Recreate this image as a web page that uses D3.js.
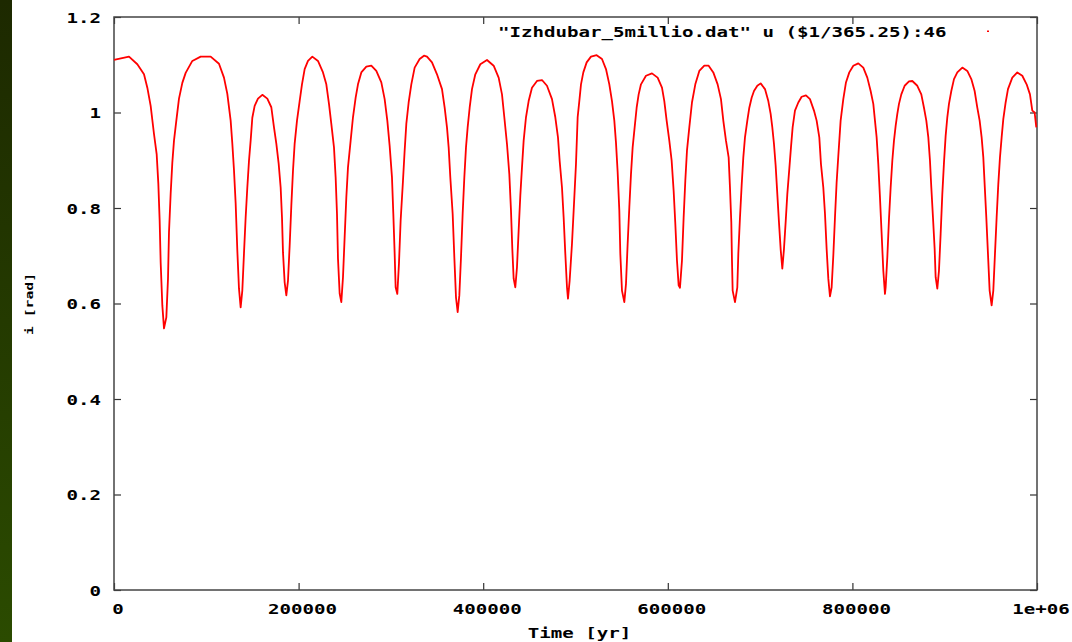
<!DOCTYPE html>
<html>
<head>
<meta charset="utf-8">
<script src="https://cdn.jsdelivr.net/npm/d3@7"></script>
<style>
  html, body { margin: 0; padding: 0; background: #ffffff; }
  svg { display: block; }
  text { font-family: "DejaVu Sans Mono", "Liberation Mono", monospace; font-weight: bold; fill: #000; }
</style>
</head>
<body>
<script>
// ---- data ----
const times = [
  0, 16250, 25280, 32500, 36110, 39720, 43330, 46220, 48030, 49470, 50560, 52360, 54170,
  56690, 58500, 59580, 61390, 63190, 65000, 67530, 70410, 74030, 77640, 84860, 93890,
  104720, 113750, 119160, 122780, 126390, 128190, 130000, 131800, 133610, 135410, 137220,
  139020, 140830, 142630, 144440, 146250, 148050, 149860, 152390, 156000, 160690, 166110,
  170450, 173340, 175870, 178400, 180560, 182010, 183090, 184900, 186700, 188510, 190310,
  192120, 193920, 195730, 198260, 201140, 203670, 206560, 210170, 214870, 221000, 226420,
  230030, 232920, 235450, 238340, 240140, 241590, 242670, 244480, 246280, 248090, 249890,
  251700, 253500, 256390, 258920, 261810, 264340, 267950, 273370, 278780, 284200, 289620,
  293230, 296120, 298650, 301170, 302620, 304060, 305140, 306950, 308750, 310560, 313090,
  314890, 316700, 319230, 322120, 325730, 331150, 335840, 339110, 344520, 349940, 355360,
  358250, 360770, 362580, 364380, 366910, 368720, 370520, 372330, 374130, 375940, 377750,
  379550, 381360, 383160, 385330, 387860, 391470, 396880, 404110, 411330, 416740, 420360,
  422880, 425770, 428300, 430100, 431550, 432990, 434800, 436600, 438410, 440210, 442020,
  443830, 446350, 449240, 452850, 458270, 463690, 469100, 474520, 478130, 481020, 482830,
  485360, 487160, 488970, 490770, 491850, 493660, 496190, 498350, 500520, 502340, 504140,
  505950, 508470, 512090, 516780, 522920, 528700, 533030, 536640, 539530, 542060, 543860,
  545670, 547470, 548560, 550360, 552890, 554700, 556500, 558310, 560110, 561920, 564080,
  566250, 568420, 570940, 576360, 582860, 589000, 593700, 596220, 598750, 601640, 604170,
  606330, 608140, 609940, 611750, 613190, 615360, 617160, 618970, 620770, 623300, 626190,
  629800, 634140, 639560, 644250, 649300, 653990, 657600, 660140, 663030, 665920, 667360,
  668800, 669530, 670260, 672790, 675310, 676400, 678200, 680010, 681810, 683620, 686150,
  688310, 690840, 693370, 696980, 700590, 705290, 708900, 711430, 713230, 715040, 716840,
  718650, 720450, 722260, 724060, 725870, 727670, 729480, 731640, 733450, 735250, 737780,
  741390, 745010, 749700, 754030, 758370, 761260, 764150, 765950, 768480, 770290, 772090,
  773900, 775700, 777510, 779310, 781120, 782920, 784730, 787250, 790140, 793030, 796640,
  800980, 806400, 811810, 816150, 819760, 822650, 824450, 826260, 828060, 829870, 831670,
  833480, 835280, 836030, 837830, 839640, 841440, 843250, 845050, 846860, 848660, 850470,
  852990, 856610, 861300, 864910, 870330, 874660, 877550, 880080, 882250, 884050, 885500,
  887300, 889110, 890190, 892000, 893800, 895610, 897410, 899220, 901020, 902830, 904630,
  907160, 910050, 913660, 919080, 924490, 928830, 932440, 935330, 937860, 940020, 941830,
  943270, 945080, 946880, 948690, 950850, 952660, 954460, 956270, 958070, 959880, 961690,
  963490, 966020, 968550, 973240, 978660, 984070, 988770, 992380, 994910, 997440, 999240
];
const inclination = [
  1.110, 1.117, 1.101, 1.080, 1.052, 1.014, 0.955, 0.913, 0.851, 0.773, 0.686, 0.596, 0.548,
  0.571, 0.652, 0.749, 0.830, 0.895, 0.941, 0.983, 1.029, 1.062, 1.083, 1.108, 1.117,
  1.117, 1.102, 1.073, 1.039, 0.983, 0.935, 0.879, 0.810, 0.711, 0.631, 0.592,
  0.627, 0.705, 0.780, 0.843, 0.899, 0.941, 0.989, 1.014, 1.029, 1.037, 1.029,
  1.011, 0.969, 0.935, 0.893, 0.843, 0.780, 0.707, 0.644, 0.617, 0.648, 0.721,
  0.805, 0.878, 0.935, 0.983, 1.024, 1.059, 1.091, 1.108, 1.117, 1.108, 1.084,
  1.059, 1.018, 0.976, 0.927, 0.864, 0.788, 0.694, 0.621, 0.603, 0.655, 0.739,
  0.822, 0.885, 0.941, 0.990, 1.031, 1.059, 1.084, 1.096, 1.098, 1.087, 1.063,
  1.028, 0.983, 0.930, 0.864, 0.788, 0.705, 0.634, 0.620, 0.684, 0.774, 0.857,
  0.920, 0.976, 1.021, 1.059, 1.094, 1.112, 1.119, 1.117, 1.105, 1.080, 1.049,
  1.010, 0.969, 0.927, 0.864, 0.788, 0.697, 0.613, 0.582, 0.617, 0.697, 0.788,
  0.864, 0.927, 0.969, 1.010, 1.049, 1.080, 1.101, 1.110, 1.098, 1.073, 1.038,
  0.990, 0.934, 0.871, 0.795, 0.714, 0.652, 0.634, 0.676, 0.753, 0.826, 0.885,
  0.941, 0.990, 1.024, 1.052, 1.066, 1.068, 1.056, 1.028, 0.990, 0.948, 0.899,
  0.843, 0.780, 0.704, 0.634, 0.610, 0.648, 0.725, 0.808, 0.892, 0.990, 1.024,
  1.059, 1.084, 1.105, 1.117, 1.120, 1.112, 1.091, 1.059, 1.024, 0.983, 0.937,
  0.875, 0.795, 0.704, 0.627, 0.603, 0.641, 0.725, 0.801, 0.871, 0.927, 0.969,
  1.010, 1.038, 1.059, 1.077, 1.082, 1.073, 1.052, 1.024, 0.983, 0.941, 0.899,
  0.836, 0.767, 0.690, 0.638, 0.633, 0.690, 0.780, 0.857, 0.920, 0.969, 1.021,
  1.059, 1.087, 1.098, 1.098, 1.084, 1.059, 1.028, 0.983, 0.941, 0.906, 0.843,
  0.770, 0.690, 0.627, 0.603, 0.634, 0.704, 0.780, 0.847, 0.906, 0.948, 0.983,
  1.010, 1.031, 1.045, 1.056, 1.061, 1.049, 1.024, 0.997, 0.969, 0.934, 0.889,
  0.829, 0.770, 0.714, 0.673, 0.714, 0.770, 0.829, 0.882, 0.927, 0.969, 1.004,
  1.021, 1.033, 1.036, 1.028, 1.004, 0.983, 0.948, 0.892, 0.843, 0.788, 0.714,
  0.652, 0.615, 0.634, 0.700, 0.780, 0.854, 0.909, 0.983, 1.028, 1.063, 1.084,
  1.098, 1.103, 1.094, 1.073, 1.045, 1.018, 0.983, 0.948, 0.892, 0.822, 0.746,
  0.669, 0.620, 0.634, 0.697, 0.777, 0.843, 0.899, 0.941, 0.972, 0.997, 1.018,
  1.038, 1.056, 1.065, 1.066, 1.056, 1.038, 1.010, 0.983, 0.948, 0.899, 0.843,
  0.780, 0.714, 0.655, 0.631, 0.669, 0.746, 0.829, 0.895, 0.951, 0.990, 1.018,
  1.045, 1.070, 1.084, 1.094, 1.087, 1.070, 1.045, 1.010, 0.983, 0.948, 0.906,
  0.850, 0.780, 0.704, 0.627, 0.596, 0.627, 0.704, 0.780, 0.850, 0.906, 0.948,
  0.986, 1.021, 1.049, 1.073, 1.084, 1.077, 1.059, 1.038, 1.004, 1.000, 0.969
];
const xTickValues = [0, 200000, 400000, 600000, 800000, 1000000];
const xTickLabels = ["0", "200000", "400000", "600000", "800000", "1e+06"];
const yTickValues = [0, 0.2, 0.4, 0.6, 0.8, 1.0, 1.2];
const yTickLabels = ["0", "0.2", "0.4", "0.6", "0.8", "1", "1.2"];
const legendLabel = "\"Izhdubar_5millio.dat\" u ($1/365.25):46";
const xTitle = "Time [yr]";
const yTitle = "i [rad]";

// ---- layout ----
const W = 1072, H = 642;
const plot = { left: 114, top: 17, right: 1037, bottom: 590 };
const CH = 11.5; // character advance of the bitmap-like font

const svg = d3.select("body").append("svg").attr("width", W).attr("height", H);

// left dark green strip
const defs = svg.append("defs");
const grad = defs.append("linearGradient").attr("id", "strip").attr("x1", 0).attr("y1", 0).attr("x2", 0).attr("y2", 1);
grad.append("stop").attr("offset", "0%").attr("stop-color", "#1d2900");
grad.append("stop").attr("offset", "100%").attr("stop-color", "#2b4b00");
svg.append("rect").attr("x", 0).attr("y", 0).attr("width", 12).attr("height", H).attr("fill", "url(#strip)");

const x = d3.scaleLinear().domain([0, 1000000]).range([plot.left, plot.right]);
const y = d3.scaleLinear().domain([0, 1.2]).range([plot.bottom, plot.top]);

function label(g, str, xStart, yBase, size, adv) {
  return g.append("text")
    .attr("x", xStart).attr("y", yBase)
    .attr("font-size", size)
    .attr("textLength", str.length * adv)
    .attr("lengthAdjust", "spacingAndGlyphs")
    .text(str);
}

// axes (inward ticks, mirrored)
const tickLen = 7;
const axisStyle = g => {
  g.selectAll("path").remove();
  g.selectAll("line").attr("stroke", "#333").attr("stroke-width", 1.2);
  g.selectAll("text").remove();
};
svg.append("g").attr("transform", `translate(0,${plot.bottom})`)
  .call(d3.axisBottom(x).tickValues(xTickValues).tickSize(-tickLen)).call(axisStyle);
svg.append("g").attr("transform", `translate(0,${plot.top})`)
  .call(d3.axisTop(x).tickValues(xTickValues).tickSize(-tickLen)).call(axisStyle);
svg.append("g").attr("transform", `translate(${plot.left},0)`)
  .call(d3.axisLeft(y).tickValues(yTickValues).tickSize(-tickLen)).call(axisStyle);
svg.append("g").attr("transform", `translate(${plot.right},0)`)
  .call(d3.axisRight(y).tickValues(yTickValues).tickSize(-tickLen)).call(axisStyle);

// frame
svg.append("rect")
  .attr("x", plot.left).attr("y", plot.top)
  .attr("width", plot.right - plot.left).attr("height", plot.bottom - plot.top)
  .attr("fill", "none").attr("stroke", "#444").attr("stroke-width", 1.5);

// tick labels
const labels = svg.append("g");
yTickValues.forEach((v, i) => {
  const s = yTickLabels[i];
  label(labels, s, 101 - s.length * CH, y(v) + 5.5, 14, CH);
});
xTickValues.forEach((v, i) => {
  const s = xTickLabels[i];
  label(labels, s, x(v) + 4 - s.length * CH / 2, 613.5, 14, CH);
});

// axis titles
label(labels, xTitle, (plot.left + plot.right) / 2 + 4 - xTitle.length * CH / 2, 637.5, 14, CH);
labels.append("text")
  .attr("transform", `translate(33,${304}) rotate(-90)`)
  .attr("x", -31).attr("y", 0)
  .attr("font-size", 11)
  .attr("textLength", 62).attr("lengthAdjust", "spacingAndGlyphs")
  .text(yTitle);

// legend
label(labels, legendLabel, 498, 37, 14, CH);
svg.append("rect").attr("x", 987).attr("y", 30.5).attr("width", 2).attr("height", 1.5).attr("fill", "#ff0000");

// data curve
const data = times.map((t, i) => ({ t, v: inclination[i] }));
const line = d3.line().x(d => x(d.t)).y(d => y(d.v)).curve(d3.curveLinear);
svg.append("path").datum(data)
  .attr("d", line)
  .attr("fill", "none")
  .attr("stroke", "#ff0000")
  .attr("stroke-width", 1.8)
  .attr("stroke-linejoin", "round");
</script>
</body>
</html>
